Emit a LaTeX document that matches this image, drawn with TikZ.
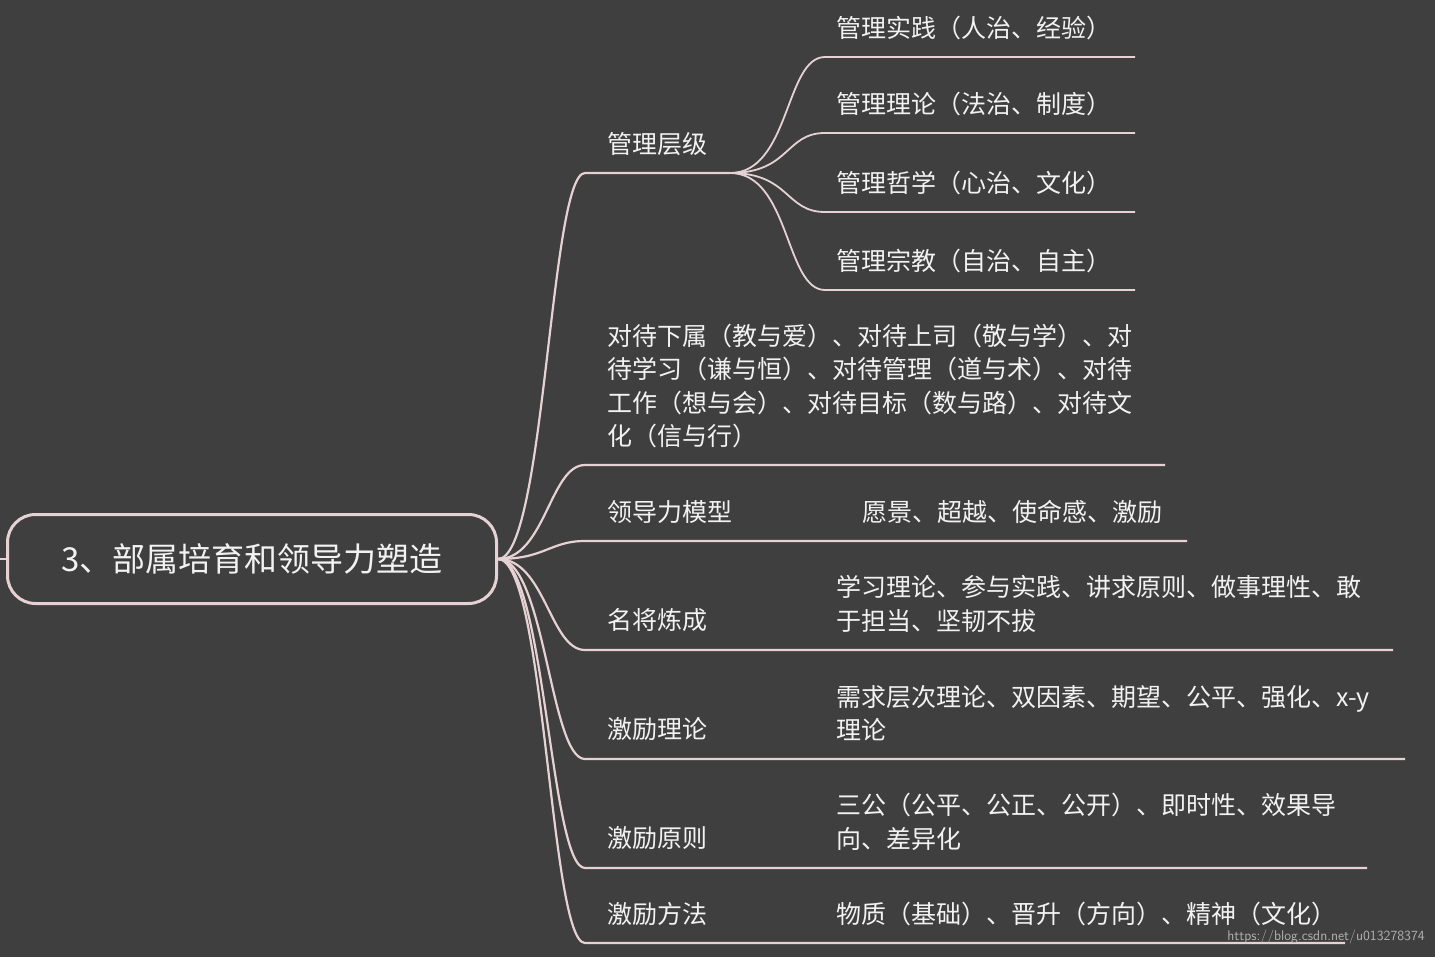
\documentclass[tikz,border=0pt]{standalone}
\usepackage{fontspec}
\newfontfamily\cjk{Noto Sans CJK SC}
\definecolor{bg}{HTML}{3F3F3F}
\definecolor{ln}{HTML}{E6D2D4}
\definecolor{tx}{HTML}{F2F2F2}
\begin{document}
\begin{tikzpicture}[x=1pt,y=-1pt,
  lab/.style={anchor=west,inner sep=0pt,text=tx,font=\cjk\fontsize{25}{33.5}\selectfont,align=left},
  br/.style={draw=ln,line width=2.2pt},
  sbr/.style={draw=ln,line width=1.8pt}]
\fill[bg] (0,0) rectangle (1435,957);
\useasboundingbox (0,0) rectangle (1435,957);
\node[draw=ln,line width=3pt,rounded corners=28pt,minimum width=489pt,minimum height=89pt,text=tx,font=\cjk\fontsize{33}{40}\selectfont] (root) at (252,559) {3、部属培育和领导力塑造};
\coordinate (l0) at (0,559);
\draw[br] (l0) -- (root.west);
\coordinate (r) at (root.east);
% branches
\foreach \y/\e/\n in {173/730/a,465/1165/b,541/1187/c,650/1393/d,759/1405/e,868/1367/f,943/1345/g}{
  \coordinate (s\n) at (585,\y);
  \coordinate (e\n) at (\e,\y);
  \draw[br] (r) .. controls (545,559) and (550,\y) .. (s\n) -- (e\n);
}
\node[lab] (ta) at (607,144) {管理层级};
\node[lab,text width=600pt] (tb) at (607,386) {对待下属（教与爱）、对待上司（敬与学）、对\\待学习（谦与恒）、对待管理（道与术）、对待\\工作（想与会）、对待目标（数与路）、对待文\\化（信与行）};
\node[lab] (tc) at (607,512) {领导力模型};
\node[lab] (tc2) at (862,512) {愿景、超越、使命感、激励};
\node[lab] (td) at (607,620) {名将炼成};
\node[lab] (td2) at (836,604) {学习理论、参与实践、讲求原则、做事理性、敢\\于担当、坚韧不拔};
\node[lab] (te) at (607,729) {激励理论};
\node[lab] (te2) at (836,713) {需求层次理论、双因素、期望、公平、强化、x-y\\理论};
\node[lab] (tf) at (607,838) {激励原则};
\node[lab] (tf2) at (836,822) {三公（公平、公正、公开）、即时性、效果导\\向、差异化};
\node[lab] (tg) at (607,914) {激励方法};
\node[lab] (tg2) at (836,914) {物质（基础）、晋升（方向）、精神（文化）};
% sub branches
\foreach \y/\t/\n in {57/管理实践（人治、经验）/1,133/管理理论（法治、制度）/2,212/管理哲学（心治、文化）/3,290/管理宗教（自治、自主）/4}{
  \coordinate (u\n) at (825,\y);
  \coordinate (v\n) at (1135,\y);
  \draw[sbr] (ea) .. controls (790,173) and (785,\y) .. (u\n) -- (v\n);
  \node[lab] (m\n) at (836,\y-29) {\t};
}
\node[anchor=east,inner sep=0pt,text=gray!60,font=\sffamily\fontsize{14}{16}\selectfont] (wm) at (1425,937) {https://blog.csdn.net/u013278374};
\end{tikzpicture}
\end{document}
